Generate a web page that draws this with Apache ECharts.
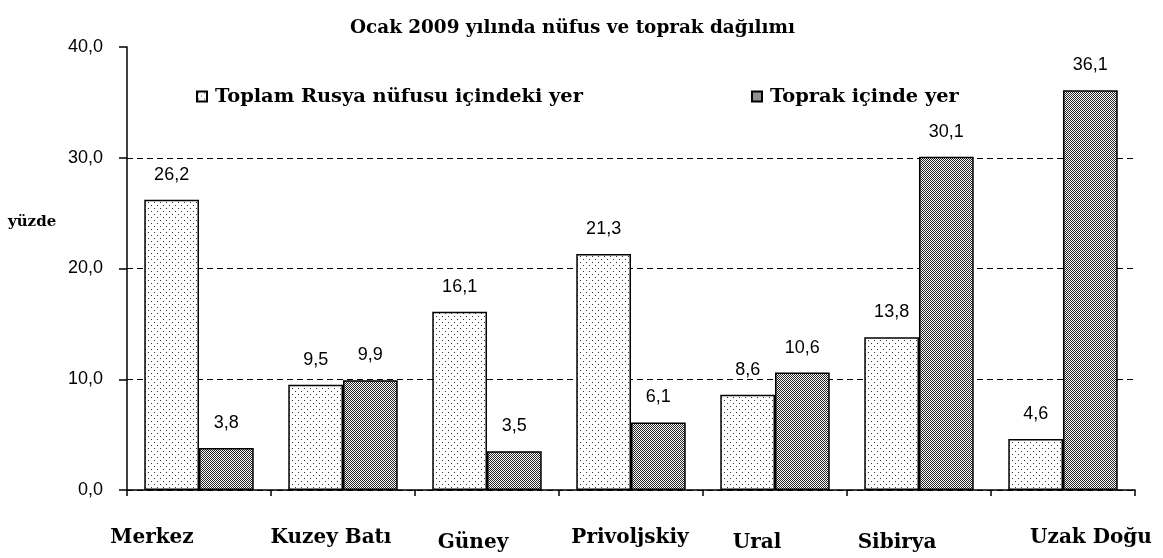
<!DOCTYPE html>
<html>
<head>
<meta charset="utf-8">
<script src="https://cdn.jsdelivr.net/npm/echarts@6/dist/echarts.min.js"></script>
<style>html,body{margin:0;padding:0;background:#fff}#c{width:1163px;height:558px}</style>
</head>
<body>
<div id="c"></div>
<script>
var categories = ['Merkez', 'Kuzey Batı', 'Güney', 'Privoljskiy', 'Ural', 'Sibirya', 'Uzak Doğu'];
var populationShare = [26.2, 9.5, 16.1, 21.3, 8.6, 13.8, 4.6];
var landShare = [3.8, 9.9, 3.5, 6.1, 10.6, 30.1, 36.1];
var seriesNames = ['Toplam Rusya nüfusu içindeki yer', 'Toprak içinde yer'];
var titleText = 'Ocak 2009 yılında nüfus ve toprak dağılımı';
var yAxisName = 'yüzde';

// label layout tweaks (style, not data)
var labelShiftX = [-47, -12, -14, -1, -18, -22, 28];
var labelShiftY = [0, 0, 9, 0, 9, 9, 0];

function makePattern(size, dots, bg, fg) {
  var c = document.createElement('canvas');
  c.width = size; c.height = size;
  var ctx = c.getContext('2d');
  ctx.fillStyle = bg; ctx.fillRect(0, 0, size, size);
  ctx.fillStyle = fg;
  dots.forEach(function (d) { ctx.fillRect(d[0], d[1], 1, 1); });
  return { image: c, repeat: 'repeat' };
}
var lightPattern = makePattern(6, [[1, 1], [4, 4]], '#ffffff', '#333333');
var darkPattern = makePattern(2, [[0, 0], [1, 1]], '#ffffff', '#222222');

var serif = 'DejaVu Serif';
var sans = 'Liberation Sans';
function fmt(v) { return v.toFixed(1).replace('.', ','); }

var rich = {};
categories.forEach(function (c, i) {
  var dx = labelShiftX[i];
  rich['c' + i] = {
    fontFamily: serif, fontWeight: 'bold', fontSize: 20, lineHeight: 24, color: '#000',
    padding: [labelShiftY[i], dx < 0 ? -2 * dx : 0, 0, dx > 0 ? 2 * dx : 0]
  };
});

var chart = echarts.init(document.getElementById('c'));
chart.setOption({
  backgroundColor: '#fff',
  animation: false,
  title: {
    text: titleText, left: 345, top: 14,
    textStyle: { fontFamily: serif, fontWeight: 'bold', fontSize: 18.4, color: '#000' }
  },
  legend: [
    { data: [seriesNames[0]], left: 191, top: 82, itemWidth: 10, itemHeight: 10, icon: 'rect',
      textStyle: { fontFamily: serif, fontWeight: 'bold', fontSize: 19.4, color: '#000', padding: [0, 0, 0, 3] } },
    { data: [seriesNames[1]], left: 746, top: 82, itemWidth: 10, itemHeight: 10, icon: 'rect',
      textStyle: { fontFamily: serif, fontWeight: 'bold', fontSize: 19.4, color: '#000', padding: [0, 0, 0, 3] } }
  ],
  graphic: [
    { type: 'text', left: 8, top: 215,
      style: { text: yAxisName, fontFamily: serif, fontWeight: 'bold', fontSize: 15, fill: '#000' } }
  ],
  grid: { left: 127, right: 28, top: 47, bottom: 68, containLabel: false },
  xAxis: {
    type: 'category', data: categories,
    axisLine: { lineStyle: { color: '#000', width: 1.5 } },
    axisTick: { show: true, length: 6, lineStyle: { color: '#000', width: 1.5 } },
    axisLabel: {
      margin: 36, interval: 0,
      formatter: function (v, i) { return '{c' + i + '|' + v + '}'; },
      rich: rich
    }
  },
  yAxis: {
    type: 'value', min: 0, max: 40, interval: 10,
    axisLine: { show: true, lineStyle: { color: '#000', width: 1.5 } },
    axisTick: { show: true, length: 8, lineStyle: { color: '#000', width: 1.5 } },
    axisLabel: { fontFamily: sans, fontSize: 18, color: '#000', margin: 24, formatter: function (v) { return fmt(v); } },
    splitLine: { show: true, showMaxLine: false, lineStyle: { color: '#000', width: 1.2, type: [6, 4] } }
  },
  series: [
    {
      name: seriesNames[0], type: 'bar', data: populationShare,
      barGap: '0%', barCategoryGap: '24%',
      itemStyle: { color: lightPattern, borderColor: '#000', borderWidth: 1.5 },
      label: { show: true, position: 'top', distance: 16, fontFamily: sans, fontSize: 18, color: '#000',
        formatter: function (p) { return fmt(p.value); } }
    },
    {
      name: seriesNames[1], type: 'bar', data: landShare,
      barGap: '0%', barCategoryGap: '24%',
      itemStyle: { color: darkPattern, borderColor: '#000', borderWidth: 1.5 },
      label: { show: true, position: 'top', distance: 16, fontFamily: sans, fontSize: 18, color: '#000',
        formatter: function (p) { return fmt(p.value); } }
    }
  ]
});
</script>
</body>
</html>
